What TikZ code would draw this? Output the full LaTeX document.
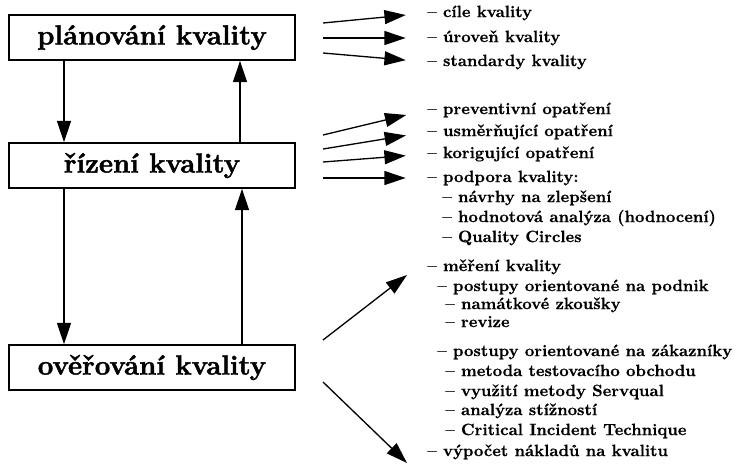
\documentclass[tikz,border=0pt]{standalone}
\usepackage{fontspec}
\usepackage{tikz}
\usetikzlibrary{calc,arrows.meta}
\newfontfamily\heavyfont{Latin Modern Roman}[Ligatures=TeX,FakeBold=1.6]
\newfontfamily\itemfont{Latin Modern Roman}[Ligatures=TeX,FakeBold=0.5]

\begin{document}
\begin{tikzpicture}[x=0.61pt,y=-0.61pt,
  box/.style={rectangle,draw,line width=0.9pt,minimum width=174.5pt,minimum height=27.5pt,inner sep=0pt,font=\heavyfont\bfseries\fontsize{16.8}{20}\selectfont},
  item/.style={anchor=west,inner sep=0pt,text height=6.9pt,text depth=1.9pt,font=\itemfont\bfseries},
  arr/.style={-{Triangle[length=13pt,width=8.5pt]},line width=0.8pt},
  side/.style={arr,shorten >=13pt}]
\useasboundingbox (0,0) rectangle (745,471);
\node (plan) at (152,37.5) [box] {plánování kvality};
\node (rizeni) at (152,165.5) [box] {řízení kvality};
\node (overeni) at (152,367.5) [box] {ověřování kvality};
\draw[arr] ($(plan.south)+(-88,0)$) -- ($(rizeni.north)+(-88,0)$);
\draw[arr] ($(rizeni.north)+(88,0)$) -- ($(plan.south)+(88,0)$);
\draw[arr] ($(rizeni.south)+(-88,0)$) -- ($(overeni.north)+(-88,0)$);
\draw[arr] ($(overeni.north)+(90,0)$) -- ($(rizeni.south)+(90,0)$);
\foreach \y/\t [count=\i] in {13/cíle kvality,38/úroveň kvality,62/standardy kvality}
  \node (plk\i) at (427,\y) [item] {-- \t};
\foreach \i/\y in {1/23,2/38,3/53} {
  \coordinate (pls\i) at (323,\y);
  \draw[side] (pls\i) -- (plk\i.west);
}
\foreach \y/\t [count=\i] in {110/preventivní opatření,132/usměrňující opatření,154/korigující opatření,178/podpora kvality:}
  \node (rk\i) at (427,\y) [item] {-- \t};
\foreach \y/\t [count=\i] in {198/návrhy na zlepšení,218/hodnotová analýza (hodnocení),238/Quality Circles}
  \node (rs\i) at (442,\y) [item] {-- \t};
\foreach \i/\y in {1/135,2/149,3/162,4/178} {
  \coordinate (rzs\i) at (323,\y);
  \draw[side] (rzs\i) -- (rk\i.west);
}
\node (ok1) at (427,267) [item] {-- měření kvality};
\foreach \x/\y/\t [count=\i] in {437/287/postupy orientované na podnik,445/305/namátkové zkoušky,445/323/revize,437/352/postupy orientované na zákazníky,445/372/metoda testovacího obchodu,445/392/využití metody Servqual,445/411/analýza stížností,445/431/Critical Incident Technique}
  \node (om\i) at (\x,\y) [item] {-- \t};
\node (ok2) at (427,452) [item] {-- výpočet nákladů na kvalitu};
\coordinate (os1) at (323,340);
\coordinate (os2) at (323,382);
\draw[arr] (os1) -- ($(ok1.west)+(-20,8)$);
\draw[arr] (os2) -- ($(ok2.west)+(-20,11)$);
\end{tikzpicture}
\end{document}
